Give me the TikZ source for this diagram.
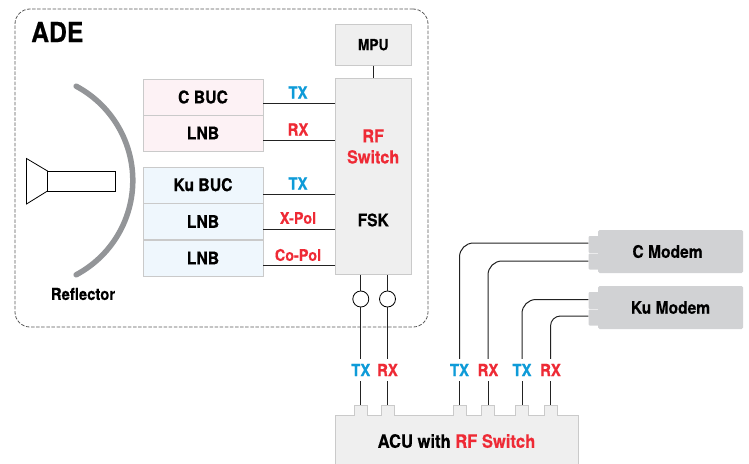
\documentclass[tikz,border=0pt]{standalone}
\usepackage{fontspec}
\setmainfont{TeX Gyre Heros}[FakeStretch=0.9,BoldFeatures={FakeBold=0.4}]
\definecolor{txb}{HTML}{0E9BD8}
\definecolor{rxr}{HTML}{EE2A35}
\definecolor{edge}{HTML}{CACACA}
\definecolor{pinkf}{HTML}{FDF2F5}
\definecolor{bluef}{HTML}{EFF7FD}
\definecolor{grayf}{HTML}{EFEFEF}
\definecolor{modemf}{HTML}{D1D2D4}
\definecolor{wire}{HTML}{222222}
\definecolor{dish}{HTML}{939598}
\tikzset{
 box/.style={draw=edge,line width=0.9pt,inner sep=0pt,font=\bfseries\fontsize{17.5}{19}\selectfont},
 pinkbox/.style={box,fill=pinkf,minimum width=120pt},
 bluebox/.style={box,fill=bluef,minimum width=120pt},
 graybox/.style={box,fill=grayf,minimum width=75.5pt},
 modem/.style={fill=modemf,rounded corners=1.5pt,inner sep=0pt,minimum width=145pt,minimum height=43pt,font=\bfseries\fontsize{17.3}{19}\selectfont},
 modemtab/.style={fill=modemf,rounded corners=1pt,inner sep=0pt,minimum width=11pt},
 lab/.style={inner sep=0pt,font=\bfseries\fontsize{16.5}{18}\selectfont},
 txl/.style={lab,text=txb},
 rxl/.style={lab,text=rxr},
 vlab/.style={fill=white,minimum height=22pt,minimum width=20pt,anchor=center},
 wireline/.style={draw=wire,line width=1pt},
 acutab/.style={fill=grayf,inner sep=0pt,minimum width=12.5pt,minimum height=10pt},
 tabedge/.style={draw=edge,line width=0.9pt},
}
\begin{document}
\begin{tikzpicture}[x=1pt,y=-1pt]
\useasboundingbox (0,0) rectangle (749,463);
% ADE frame
\node[draw=black!65,dashed,dash pattern=on 3.5pt off 1.6pt,line width=0.8pt,rounded corners=15pt,minimum width=413pt,minimum height=318pt,inner sep=0pt] (ade) at (221.5,168) {};
\node[inner sep=0pt,font=\bfseries\fontsize{27.5}{29}\selectfont,anchor=west] (adet) at (31,32) {ADE};
% Reflector
\draw[draw=dish,line width=5.5pt,line cap=round,domain=-62:62,samples=60,smooth] plot ({26+106.8*cos(\x)},{180.5+106.8*sin(\x)});
\node[inner sep=0pt,font=\bfseries\fontsize{16.5}{18}\selectfont] (refl) at (83,294) {Reflector};
% Feed horn
\draw[line width=0.8pt,fill=white] (26.5,158.5) -- (47.5,171) -- (47.5,191) -- (26.5,204) -- cycle;
\node[draw,line width=0.8pt,fill=white,inner sep=0pt,minimum width=68pt,minimum height=20pt] (feed) at (81.5,181) {};
% Blocks
\node[pinkbox,minimum height=36pt] (cbuc) at (203,97) {C BUC};
\node[pinkbox,minimum height=36pt] (clnb) at (203,133) {LNB};
\node[bluebox,minimum height=36pt] (kbuc) at (203,185) {\raisebox{0.8pt}{Ku BUC}};
\node[bluebox,minimum height=36pt] (klnba) at (203,221.5) {\raisebox{-0.5pt}{LNB}};
\node[bluebox,minimum height=36pt] (klnbb) at (203,258) {LNB};
\node[graybox,minimum height=41pt] (mpu) at (373.2,44.7) {\fontsize{15.3}{17}\selectfont MPU};
\node[graybox,minimum height=196pt] (rf) at (373.2,176.5) {};
\node[lab,text=rxr,align=center,font=\bfseries\fontsize{18}{21}\selectfont] (rft) at (373.2,146.5) {RF\\Switch};
\node[lab,font=\bfseries\fontsize{17.3}{19}\selectfont] (fsk) at (373.2,220) {FSK};
\draw[wireline] (mpu) -- (rf);
% Horizontal links
\foreach \a/\y in {cbuc/103.5,clnb/140.5,kbuc/194.5,klnba/229,klnbb/265.5}
  \draw[wireline] (\a.east |- 0,\y) -- (rf.west |- 0,\y);
\node[txl] (l1) at (298,92.5) {TX};
\node[rxl] (l2) at (298,129.5) {RX};
\node[txl] (l3) at (298,183.5) {TX};
\node[rxl,font=\bfseries\fontsize{16}{18}\selectfont] (l4) at (298,218) {X-Pol};
\node[rxl,font=\bfseries\fontsize{16}{18}\selectfont] (l5) at (298,255) {Co-Pol};
% ACU
\node[draw=edge,line width=0.9pt,fill=grayf,inner sep=0pt,minimum width=243pt,minimum height=52pt] (acu) at (456.5,441) {};
\node[inner sep=0pt,font=\bfseries\fontsize{18.4}{20}\selectfont] (acut) at (456.5,441) {ACU with \textcolor{rxr}{RF Switch}};
\foreach \n/\x in {ta/360.8,tb/387.5,tc/459.5,td/488,te/522,tf/550.5}{
  \node[acutab] (\n) at (\x,410.5) {};
  \draw[tabedge] (\n.south west) -- (\n.north west) -- (\n.north east) -- (\n.south east);
}
% Modems
\node[modemtab,minimum height=17pt] (ca) at (594,244.5) {};
\node[modemtab,minimum height=16pt] (cb) at (594,261.5) {};
\node[modemtab,minimum height=17pt] (ka) at (594,300.5) {};
\node[modemtab,minimum height=16pt] (kb) at (594,317.5) {};
\node[modem] (cm) at (670.5,251.5) {\hspace*{-6pt}C Modem};
\node[modem] (km) at (670.5,307.5) {Ku Modem};
% Vertical labels
\node[txl,vlab] (v1) at (360.8,370) {TX};
\node[rxl,vlab] (v2) at (387.5,370) {RX};
\node[txl,vlab] (v3) at (459.5,370) {TX};
\node[rxl,vlab] (v4) at (488,370) {RX};
\node[txl,vlab] (v5) at (522,370) {TX};
\node[rxl,vlab] (v6) at (550.5,370) {RX};
\foreach \v/\t in {v1/ta,v2/tb,v3/tc,v4/td,v5/te,v6/tf}
  \draw[wireline] (\v.south) -- (\t.north);
% Circles on the two ADE links
\node[circle,draw=black,line width=0.8pt,fill=white,minimum size=16pt,inner sep=0pt] (c1) at (360.8,299) {};
\node[circle,draw=black,line width=0.8pt,fill=white,minimum size=16pt,inner sep=0pt] (c2) at (387.5,299) {};
\draw[wireline] (rf.south -| c1) -- (c1.north);
\draw[wireline] (rf.south -| c2) -- (c2.north);
\draw[wireline] (c1.south) -- (v1.north);
\draw[wireline] (c2.south) -- (v2.north);
% Modem links
\draw[wireline,rounded corners=14pt] (ca.west |- 0,243) -| (v3.north);
\draw[wireline,rounded corners=14pt] (cb.west |- 0,261) -| (v4.north);
\draw[wireline,rounded corners=14pt] (ka.west |- 0,299.5) -| (v5.north);
\draw[wireline,rounded corners=10pt] (kb.west |- 0,316) -| (v6.north);
\end{tikzpicture}
\end{document}
